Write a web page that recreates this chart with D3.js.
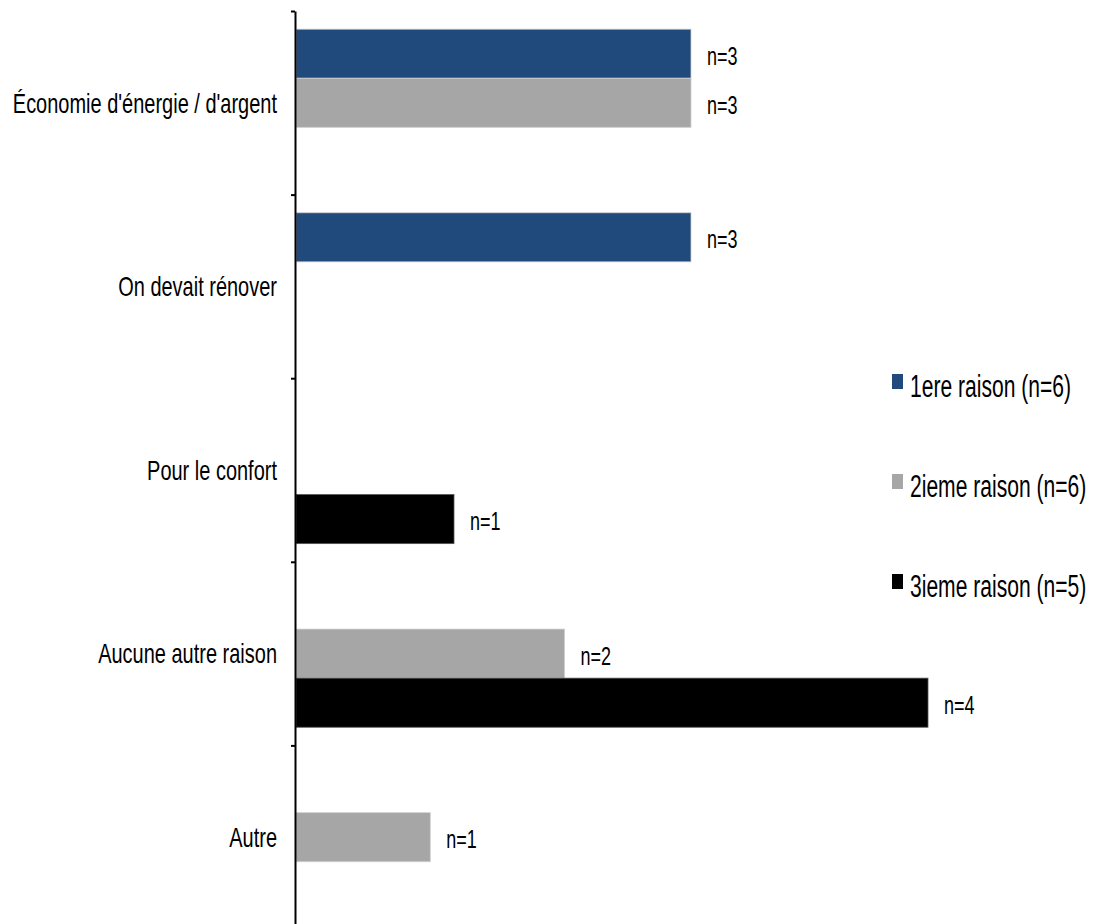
<!DOCTYPE html>
<html>
<head>
<meta charset="utf-8">
<script src="https://cdn.jsdelivr.net/npm/d3@7"></script>
<style>
  html, body { margin: 0; padding: 0; background: #fff; }
  svg text { font-family: "Liberation Sans", Arial, sans-serif; fill: #000; }
</style>
</head>
<body>
<svg id="chart" width="1097" height="924"></svg>
<script>
const categories = ["Économie d'énergie / d'argent", "On devait rénover", "Pour le confort", "Aucune autre raison", "Autre"];
const seriesNames = ["1ere raison (n=6)", "2ieme raison (n=6)", "3ieme raison (n=5)"];
const seriesColors = ["#204A7C", "#A6A6A6", "#000000"];
// percentage values (null = no bar)
const values1 = [50, 50, null, null, null];
const values2 = [50, null, null, 34, 17];
const values3 = [null, null, 20, 80, null];
// counts shown next to bars
const counts1 = ["n=3", "n=3", null, null, null];
const counts2 = ["n=3", null, null, "n=2", "n=1"];
const counts3 = [null, null, "n=1", "n=4", null];

const seriesValues = [values1, values2, values3];
const seriesCounts = [counts1, counts2, counts3];

const svg = d3.select("#chart");
const axisX = 295;
const plotTop = 11, bandH = 183.6;

const y = d3.scaleBand().domain(categories).range([plotTop, plotTop + bandH * categories.length]).padding(0);
const ySub = d3.scaleBand().domain(d3.range(3)).range([0, y.bandwidth()]).paddingInner(0).paddingOuter(0.37);
const x = d3.scaleLinear().domain([0, 100]).range([axisX + 1, axisX + 1 + 790]);

// condensed text helper (reference uses a narrow, tall font)
function narrow(sel, tx, ty, sx) {
  return sel.attr("transform", d => `translate(${tx(d)},${ty(d)}) scale(${sx},1)`);
}

// bars
seriesValues.forEach((vals, si) => {
  const rows = categories.map((c, i) => ({ c, v: vals[i], n: seriesCounts[si][i] })).filter(d => d.v != null);
  svg.append("g").selectAll("rect").data(rows).join("rect")
    .attr("x", x(0))
    .attr("y", d => y(d.c) + ySub(si))
    .attr("width", d => x(d.v) - x(0))
    .attr("height", ySub.bandwidth())
    .attr("fill", seriesColors[si])
    .attr("stroke", si === 2 ? "#555" : "#d0d0d0")
    .attr("stroke-width", 0.8);
  svg.append("g").selectAll("text").data(rows).join("text")
    .call(narrow, d => x(d.v) + 16, d => y(d.c) + ySub(si) + ySub.bandwidth() / 2 + 2, 0.72)
    .attr("dy", "0.36em")
    .attr("font-size", 25)
    .text(d => d.n);
});

// axis with boundary ticks
const tickScale = d3.scaleLinear().domain([0, categories.length]).range([plotTop, plotTop + bandH * categories.length]);
const axisG = svg.append("g").attr("transform", `translate(${axisX},0)`)
  .call(d3.axisLeft(tickScale).tickValues(d3.range(categories.length + 1)).tickSize(4).tickSizeOuter(0).tickFormat(""));
axisG.select(".domain").attr("stroke", "#000").attr("stroke-width", 2);
axisG.selectAll(".tick line").attr("stroke", "#000").attr("stroke-width", 2);

// category labels
svg.append("g").selectAll("text").data(categories).join("text")
  .call(narrow, () => axisX - 18, d => y(d) + y.bandwidth() / 2, 0.74)
  .attr("text-anchor", "end")
  .attr("dy", "0.36em")
  .attr("font-size", 27)
  .text(d => d);

// legend
const legend = svg.append("g");
const legendY = d3.scalePoint().domain(seriesNames).range([386, 586]);
legend.selectAll("rect").data(seriesNames).join("rect")
  .attr("x", 892).attr("y", d => legendY(d) - 12).attr("width", 11).attr("height", 15)
  .attr("fill", (d, i) => seriesColors[i]);
legend.selectAll("text").data(seriesNames).join("text")
  .call(narrow, () => 910, d => legendY(d), 0.68)
  .attr("dy", "0.36em")
  .attr("font-size", 31)
  .text(d => d);
</script>
</body>
</html>
